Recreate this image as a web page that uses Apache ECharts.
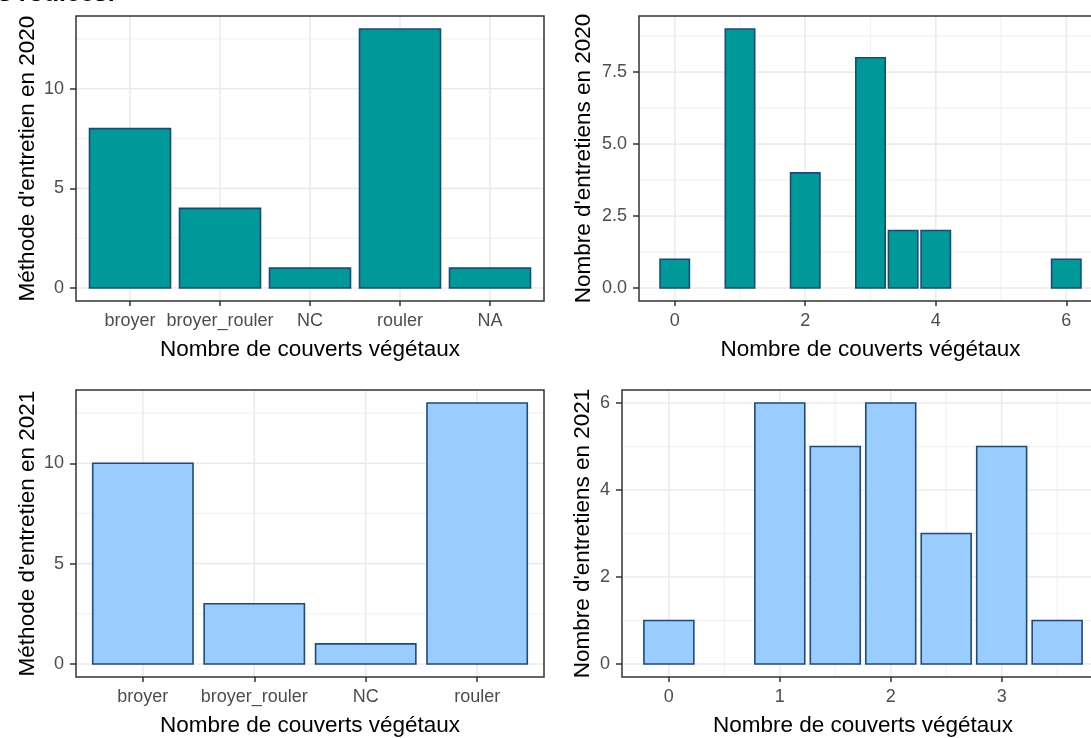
<!DOCTYPE html>
<html>
<head>
<meta charset="utf-8">
<script src="https://cdn.jsdelivr.net/npm/echarts@6/dist/echarts.min.js"></script>
<style>
html,body{margin:0;padding:0;background:#fff;}
#chart{width:1091px;height:738px;}
</style>
</head>
<body>
<div id="chart"></div>
<script>
// ---------- DATA ----------
const methodCats2020 = ['broyer', 'broyer_rouler', 'NC', 'rouler', 'NA'];
const methodCounts2020 = [8, 4, 1, 13, 1];
const methodCats2021 = ['broyer', 'broyer_rouler', 'NC', 'rouler'];
const methodCounts2021 = [10, 3, 1, 13];

const nbCouverts2020 = [0, 1, 2, 3, 3.5, 4, 6];
const nbEntretiens2020 = [1, 9, 4, 8, 2, 2, 1];
const nbCouverts2021 = [0, 1, 1.5, 2, 2.5, 3, 3.5];
const nbEntretiens2021 = [1, 6, 5, 6, 3, 5, 1];

// tick labels / grid breaks
const yMajorTL = [0, 5, 10], yMinorTL = [2.5, 7.5, 12.5];
const yMajorTR = [0, 2.5, 5, 7.5], yMinorTR = [1.25, 3.75, 6.25, 8.75];
const xMajorTR = [0, 2, 4, 6], xMinorTR = [1, 3, 5];
const yMajorBL = [0, 5, 10], yMinorBL = [2.5, 7.5, 12.5];
const yMajorBR = [0, 2, 4, 6], yMinorBR = [1, 3, 5];
const xMajorBR = [0, 1, 2, 3], xMinorBR = [0.5, 1.5, 2.5, 3.5];

const xTitle = 'Nombre de couverts végétaux';
const yTitleTL = "Méthode d'entretien en 2020";
const yTitleTR = "Nombre d'entretiens en 2020";
const yTitleBL = "Méthode d'entretien en 2021";
const yTitleBR = "Nombre d'entretiens en 2021";
const topText = 's roulées.';

// ---------- STYLE ----------
const FONT = "'Liberation Sans', Arial, sans-serif";
const TEAL = '#009999', TEAL_EDGE = '#1B4A78';
const BLUE = '#99CCFF', BLUE_EDGE = '#1F4A7A';
const idx = a => a.map((_, i) => i + 1);

const grids = [
  {left: 76, top: 16, width: 468, height: 285},
  {left: 639, top: 16, width: 463, height: 285},
  {left: 76, top: 390, width: 468, height: 287},
  {left: 622, top: 390, width: 482, height: 287}
].map(g => Object.assign(g, {show: true, borderColor: '#333333', borderWidth: 1.5,
  backgroundColor: 'transparent', containLabel: false, outerBoundsMode: 'none'}));

function expand(lo, hi, mult, add) {
  const r = hi - lo;
  return [lo - r * mult - add, hi + r * mult + add];
}

function xAxisDef(i, range, ticks, fmt) {
  return {
    type: 'value', gridIndex: i, min: range[0], max: range[1], position: 'bottom',
    axisLine: {show: false, onZero: false}, splitLine: {show: false},
    axisTick: {show: true, customValues: ticks, length: 5, lineStyle: {color: '#333333', width: 1.5}},
    axisLabel: {customValues: ticks, margin: 11, color: '#4D4D4D', fontSize: 18, fontFamily: FONT, formatter: fmt},
    name: xTitle, nameLocation: 'middle', nameGap: 37,
    nameTextStyle: {color: '#000', fontSize: 22.5, fontFamily: FONT}
  };
}
function yAxisDef(i, range, ticks, fmt, name, gap) {
  return {
    type: 'value', gridIndex: i, min: range[0], max: range[1], position: 'left',
    axisLine: {show: false, onZero: false}, splitLine: {show: false},
    axisTick: {show: true, customValues: ticks, length: 6, lineStyle: {color: '#333333', width: 1.5}},
    axisLabel: {customValues: ticks, margin: 12, color: '#4D4D4D', fontSize: 18, fontFamily: FONT, formatter: fmt},
    name: name, nameLocation: 'middle', nameGap: gap,
    nameTextStyle: {color: '#000', fontSize: 22.5, fontFamily: FONT}
  };
}

function gridLines(i, values, vertical, major) {
  return {
    type: 'custom', xAxisIndex: i, yAxisIndex: i, silent: true, z: -1,
    data: values.map(v => vertical ? [v, 0] : [0, v]),
    encode: {x: 0, y: 1},
    renderItem: function (params, api) {
      const cs = params.coordSys;
      const p = api.coord([api.value(0), api.value(1)]);
      const shape = vertical
        ? {x1: p[0], y1: cs.y, x2: p[0], y2: cs.y + cs.height}
        : {x1: cs.x, y1: p[1], x2: cs.x + cs.width, y2: p[1]};
      return {type: 'line', shape: shape,
        style: {stroke: major ? '#EBEBEB' : '#F2F2F2', lineWidth: major ? 1.6 : 1.2}};
    }
  };
}

function bars(i, xs, ys, w, fill, edge) {
  return {
    type: 'custom', xAxisIndex: i, yAxisIndex: i, z: 3,
    data: xs.map((x, k) => [x, ys[k]]),
    encode: {x: 0, y: 1},
    renderItem: function (params, api) {
      const x = api.value(0), y = api.value(1);
      const a = api.coord([x - w / 2, y]);
      const b = api.coord([x + w / 2, 0]);
      return {type: 'rect', shape: {x: a[0], y: a[1], width: b[0] - a[0], height: b[1] - a[1]},
        style: {fill: fill, stroke: edge, lineWidth: 1.6}};
    }
  };
}

// axis ranges (ggplot-style expansion)
const xTL = [0.4, methodCats2020.length + 0.6];
const yTL = expand(0, Math.max(...methodCounts2020), 0.05, 0);
const xBL = [0.4, methodCats2021.length + 0.6];
const yBL = expand(0, Math.max(...methodCounts2021), 0.05, 0);
const wTR = 0.45, wBR = 0.45;
const xTR = expand(Math.min(...nbCouverts2020) - wTR / 2, Math.max(...nbCouverts2020) + wTR / 2, 0.05, 0);
const yTR = expand(0, Math.max(...nbEntretiens2020), 0.05, 0);
const xBR = expand(Math.min(...nbCouverts2021) - wBR / 2, Math.max(...nbCouverts2021) + wBR / 2, 0.05, 0);
const yBR = expand(0, Math.max(...nbEntretiens2021), 0.05, 0);

const fmtInt = v => String(Math.round(v));
const fmt1 = v => v.toFixed(1);

const option = {
  animation: false,
  backgroundColor: '#ffffff',
  textStyle: {fontFamily: FONT},
  grid: grids,
  xAxis: [
    xAxisDef(0, xTL, idx(methodCats2020), v => methodCats2020[Math.round(v) - 1]),
    xAxisDef(1, xTR, xMajorTR, fmtInt),
    xAxisDef(2, xBL, idx(methodCats2021), v => methodCats2021[Math.round(v) - 1]),
    xAxisDef(3, xBR, xMajorBR, fmtInt)
  ],
  yAxis: [
    yAxisDef(0, yTL, yMajorTL, fmtInt, yTitleTL, 37),
    yAxisDef(1, yTR, yMajorTR, fmt1, yTitleTR, 44),
    yAxisDef(2, yBL, yMajorBL, fmtInt, yTitleBL, 37),
    yAxisDef(3, yBR, yMajorBR, fmtInt, yTitleBR, 28)
  ],
  graphic: [{
    type: 'text', left: -2, top: -18,
    style: {text: topText, fill: '#000', font: 'bold 25px ' + FONT}
  }],
  series: [
    gridLines(0, yMinorTL, false, false), gridLines(0, yMajorTL, false, true), gridLines(0, idx(methodCats2020), true, true),
    bars(0, idx(methodCats2020), methodCounts2020, 0.9, TEAL, TEAL_EDGE),

    gridLines(1, yMinorTR, false, false), gridLines(1, yMajorTR, false, true),
    gridLines(1, xMinorTR, true, false), gridLines(1, xMajorTR, true, true),
    bars(1, nbCouverts2020, nbEntretiens2020, wTR, TEAL, TEAL_EDGE),

    gridLines(2, yMinorBL, false, false), gridLines(2, yMajorBL, false, true), gridLines(2, idx(methodCats2021), true, true),
    bars(2, idx(methodCats2021), methodCounts2021, 0.9, BLUE, BLUE_EDGE),

    gridLines(3, yMinorBR, false, false), gridLines(3, yMajorBR, false, true),
    gridLines(3, xMinorBR, true, false), gridLines(3, xMajorBR, true, true),
    bars(3, nbCouverts2021, nbEntretiens2021, wBR, BLUE, BLUE_EDGE)
  ]
};

const chart = echarts.init(document.getElementById('chart'), null, {renderer: 'canvas'});
chart.setOption(option);
</script>
</body>
</html>
